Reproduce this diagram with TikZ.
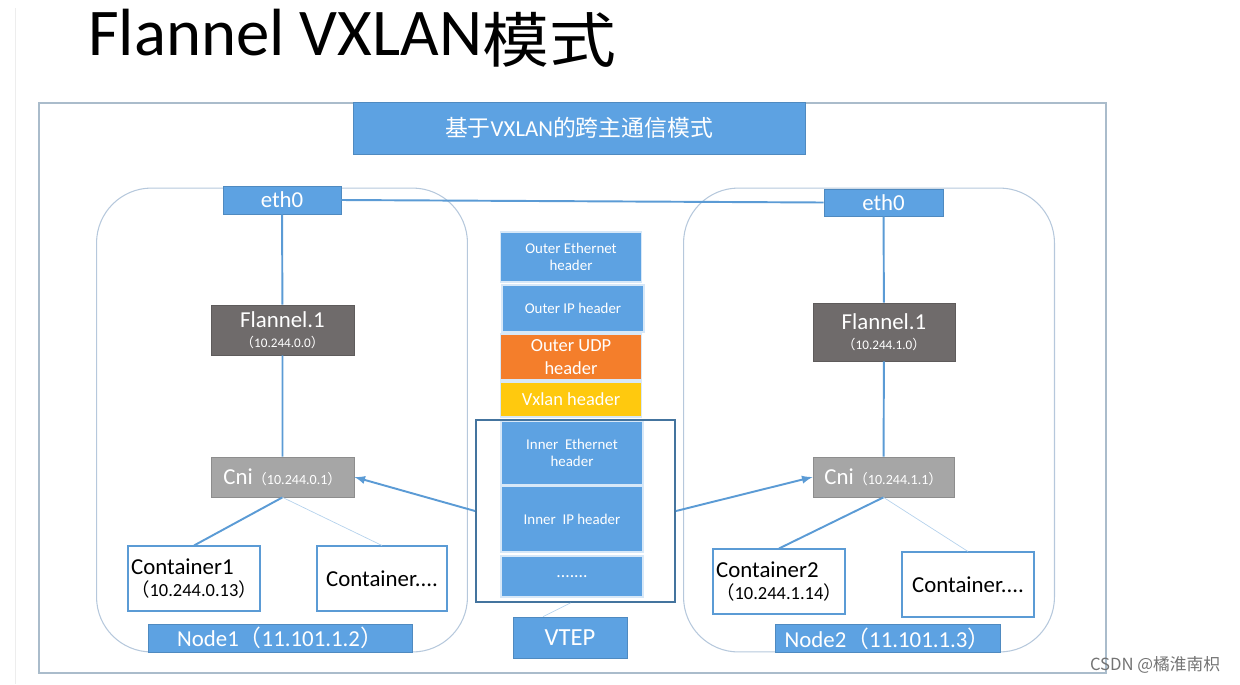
\documentclass[tikz,border=0pt]{standalone}
\usepackage{fontspec}
\setmainfont{Carlito}
\newfontfamily\cjk{Noto Sans CJK SC}
\usepackage{tikz}
\usetikzlibrary{positioning}

\definecolor{nodeblue}{HTML}{5DA2E2}
\definecolor{linkblue}{HTML}{5B9BD5}
\definecolor{flanneldark}{HTML}{6F6B6B}
\definecolor{cnigray}{HTML}{A6A6A6}
\definecolor{udporange}{HTML}{F47E2B}
\definecolor{vxlanyellow}{HTML}{FFC90E}
\definecolor{vtepline}{HTML}{44749E}
\definecolor{hostline}{HTML}{B6C8DC}
\definecolor{frameline}{HTML}{AABCCB}

\newcommand{\zlp}{{\cjk （}}
\newcommand{\zrp}{{\cjk ）}}

\begin{document}
\begin{tikzpicture}[x=0.02cm, y=-0.02cm]
        % Setup the styles for the boxes
        \tikzset{blue box/.style={rectangle,
                                  inner sep=0pt,
                                  fill=nodeblue,
                                  draw=nodeblue!85!black,
                                  line width=0.4pt,
                                  text=white,
                                  align=center},
                 grey box/.style={blue box, fill=#1, draw=#1!85!black},
                 hdr box/.style={blue box, draw=white!75!nodeblue, line width=0.8pt,
                                 minimum width=2.84cm},
                 ctr box/.style={rectangle, inner sep=0pt, draw=linkblue, fill=white,
                                 line width=0.6pt, minimum width=2.64cm,
                                 font=\fontsize{13}{13}\selectfont},
                 host box/.style={rectangle, draw=hostline, line width=0.6pt,
                                  rounded corners=1.1cm,
                                  minimum width=7.42cm, minimum height=9.28cm},
                 link/.style={draw=linkblue, line width=1.1pt},
                 thin link/.style={draw=linkblue!45, line width=0.4pt}}

        \useasboundingbox (0,0) rectangle (1240,684);
        \draw[black!7] (15,8) -- (15,684);

        % Title and frame
        \node[anchor=base west, font=\fontsize{38}{40}\selectfont, inner sep=0pt] (title) at (88,55)
            {Flannel VXLAN\raisebox{-4pt}{\scalebox{1.12}[1]{\cjk\fontsize{34}{36}\selectfont 模式}}};
        \node[rectangle, draw=frameline, line width=0.8pt,
              minimum width=21.34cm, minimum height=11.4cm] (frame) at (572.5,388) {};
        \node[blue box, minimum width=9.04cm, minimum height=1.04cm,
              font=\fontsize{13}{15}\selectfont] (mode) at (579,128)
            {{\cjk 基于}VXLAN{\cjk 的跨主通信模式}};

        % The two hosts
        \node[host box] (host1) at (282,420) {};
        \node[host box] (host2) at (869,420) {};

        \node[blue box, minimum width=2.36cm, minimum height=0.56cm,
              font=\fontsize{13}{15}\selectfont] (eth1) at (282,200) {eth0};
        \node[blue box, minimum width=2.38cm, minimum height=0.54cm,
              font=\fontsize{13}{15}\selectfont] (eth2) at (883.5,202.5) {eth0};

        \node[grey box=flanneldark, minimum width=2.86cm, minimum height=1.0cm,
              font=\fontsize{13}{11.5}\selectfont] (flannel1) at (282.5,330)
            {Flannel.1\\{\fontsize{7.5}{9}\selectfont\zlp10.244.0.0\zrp}};
        \node[grey box=flanneldark, minimum width=2.84cm, minimum height=1.16cm,
              font=\fontsize{13}{11.5}\selectfont] (flannel2) at (884,332)
            {Flannel.1\\{\fontsize{7.5}{9}\selectfont\zlp10.244.1.0\zrp}};

        \node[grey box=cnigray, minimum width=2.86cm, minimum height=0.8cm,
              font=\fontsize{13}{15}\selectfont] (cni1) at (282.5,477)
            {Cni{\fontsize{8}{9}\selectfont\zlp10.244.0.1\zrp}};
        \node[grey box=cnigray, minimum width=2.82cm, minimum height=0.8cm,
              font=\fontsize{13}{15}\selectfont] (cni2) at (883.5,477)
            {Cni{\fontsize{8}{9}\selectfont\zlp10.244.1.1\zrp}};

        \node[ctr box, minimum height=1.3cm, align=left] (ctr1) at (194,578.5)
            {Container1\\{\fontsize{10.5}{12}\selectfont\zlp10.244.0.13\zrp}};
        \node[ctr box, minimum width=2.6cm, minimum height=1.3cm] (ctr1b) at (382,578.5)
            {Container....};
        \node[ctr box, minimum height=1.3cm, align=left] (ctr2) at (779,581.5)
            {Container2\\{\fontsize{10.5}{12}\selectfont\zlp10.244.1.14\zrp}};
        \node[ctr box, minimum height=1.3cm] (ctr2b) at (968,584.5)
            {Container....};

        \node[blue box, minimum width=5.28cm, minimum height=0.56cm,
              font=\fontsize{13}{15}\selectfont] (node1) at (280,638)
            {Node1\zlp11.101.1.2\zrp};
        \node[blue box, minimum width=4.5cm, minimum height=0.56cm,
              font=\fontsize{13}{15}\selectfont] (node2) at (887.5,638.5)
            {Node2\zlp11.101.1.3\zrp};

        % The packet in the middle
        \node[hdr box, minimum width=2.82cm, minimum height=1.0cm,
              font=\fontsize{8.5}{9.8}\selectfont] (outereth) at (571,257)
            {Outer Ethernet\\header};
        \node[hdr box, minimum height=0.94cm,
              font=\fontsize{8.5}{9.8}\selectfont] (outerip) at (573,308.5)
            {Outer IP header};
        \node[hdr box, fill=udporange, minimum width=2.82cm, minimum height=0.92cm,
              font=\fontsize{10.5}{13}\selectfont] (outerudp) at (571,357)
            {Outer UDP\\header};
        \node[hdr box, fill=vxlanyellow, minimum width=2.82cm, minimum height=0.7cm,
              font=\fontsize{10.5}{13}\selectfont] (vxlanhdr) at (571,399.5)
            {Vxlan header};
        \node[hdr box, minimum height=1.28cm,
              font=\fontsize{8.5}{10}\selectfont] (innereth) at (572,453)
            {Inner~ Ethernet\\header};
        \node[hdr box, minimum height=1.32cm,
              font=\fontsize{8.5}{10}\selectfont] (innerip) at (572,519)
            {Inner~ IP header};
        \node[hdr box, minimum height=0.82cm,
              font=\fontsize{10}{12}\selectfont] (rest) at (572,576.5)
            {.......};
        \node[rectangle, draw=vtepline, line width=1.1pt,
              minimum width=3.98cm, minimum height=3.64cm] (vtepframe) at (575.5,511) {};
        \node[blue box, minimum width=2.28cm, minimum height=0.82cm,
              font=\fontsize{14}{16}\selectfont] (vtep) at (570,637.5) {VTEP};

        % Connect the boxes
        \draw[link] (eth1.east) -- (eth2.west);
        \draw[link] (eth1) -- (flannel1) -- (cni1);
        \draw[link] (eth2) -- (flannel2) -- (cni2);
        \draw[link] (cni1.south) -- (ctr1.north);
        \draw[link] (cni2.south) -- (ctr2.north);
        \draw[thin link] (cni1.south) -- (ctr1b.north);
        \draw[thin link] (cni2.south) -- (ctr2b.north);
        \draw[link, -latex] (vtepframe.west) -- (cni1.east);
        \draw[link, -latex] (vtepframe.east) -- (cni2.west);
        \draw[thin link] ([xshift=-0.1cm]vtepframe.south) -- ([xshift=-0.54cm]vtep.north);

        % Watermark
        \node[text=black!55, font=\cjk\fontsize{9.5}{11}\selectfont] (mark) at (1155,665)
            {CSDN @橘淮南枳};
\end{tikzpicture}
\end{document}
